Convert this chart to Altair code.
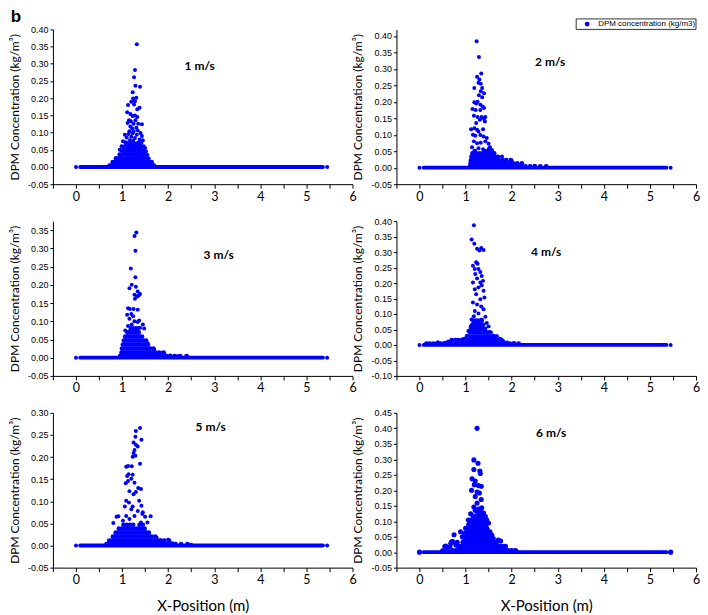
import altair as alt
import pandas as pd

BLUE = "#0000FF"

# ---------------- axes ----------------
X_DOMAIN = [-0.5, 6]
X_TICKS = [-0.5, 0, 0.5, 1, 1.5, 2, 2.5, 3, 3.5, 4, 4.5, 5, 5.5, 6]

SPEEDS = ["1 m/s", "2 m/s", "3 m/s", "4 m/s", "5 m/s", "6  m/s"]
Y_DOMAINS = [[-0.05, 0.40], [-0.05, 0.42], [-0.05, 0.375],
             [-0.10, 0.40], [-0.05, 0.30], [-0.05, 0.45]]
Y_TICKS = [
    [-0.05, 0.0, 0.05, 0.10, 0.15, 0.20, 0.25, 0.30, 0.35, 0.40],
    [-0.05, 0.0, 0.05, 0.10, 0.15, 0.20, 0.25, 0.30, 0.35, 0.40],
    [-0.05, 0.0, 0.05, 0.10, 0.15, 0.20, 0.25, 0.30, 0.35],
    [-0.10, -0.05, 0.0, 0.05, 0.10, 0.15, 0.20, 0.25, 0.30, 0.35, 0.40],
    [-0.05, 0.0, 0.05, 0.10, 0.15, 0.20, 0.25, 0.30],
    [-0.05, 0.0, 0.05, 0.10, 0.15, 0.20, 0.25, 0.30, 0.35, 0.40, 0.45],
]

# zero-concentration band along the tunnel (dense points at y = 0)
BASE_START, BASE_END = 0.09, 5.36
END_POINTS_X = [0.0, 5.45]

# ---------------- data: scattered peak points (x, y) ----------------
P1_PEAK = [(1.32, 0.357), (1.28, 0.282), (1.26, 0.261), (1.29, 0.236), (1.39, 0.233), (1.23, 0.217),
           (1.24, 0.199), (1.31, 0.201), (1.28, 0.191), (1.20, 0.190), (1.13, 0.180), (1.26, 0.182),
           (1.38, 0.172), (1.33, 0.168), (1.11, 0.159), (1.18, 0.154), (1.23, 0.148), (1.28, 0.150),
           (1.33, 0.145), (1.15, 0.136), (1.19, 0.133), (1.29, 0.136), (1.12, 0.128), (1.25, 0.126),
           (1.35, 0.126), (1.43, 0.124), (1.18, 0.118), (1.22, 0.112), (1.31, 0.114), (1.16, 0.104),
           (1.25, 0.104), (1.34, 0.106), (1.40, 0.099), (1.14, 0.096), (1.06, 0.094), (1.23, 0.098),
           (1.32, 0.094), (1.43, 0.090), (1.10, 0.086), (1.20, 0.088), (1.28, 0.084), (1.38, 0.080),
           (1.45, 0.078), (1.02, 0.075), (1.08, 0.072), (1.17, 0.078), (1.24, 0.076), (1.36, 0.072),
           (1.42, 0.070), (1.47, 0.060), (1.50, 0.055), (1.52, 0.045), (0.99, 0.060), (0.95, 0.050),
           (1.55, 0.035), (1.58, 0.025)]
P1_CLOUD = {
    0.004: [0.73, 0.79, 0.85, 0.91, 0.97, 1.03, 1.09, 1.15, 1.21, 1.27, 1.33, 1.39, 1.45, 1.51, 1.57, 1.63, 1.69],
    0.014: [0.80, 0.86, 0.92, 0.98, 1.04, 1.10, 1.16, 1.22, 1.28, 1.34, 1.40, 1.46, 1.52, 1.58, 1.64],
    0.025: [0.87, 0.93, 0.99, 1.05, 1.11, 1.17, 1.23, 1.29, 1.35, 1.41, 1.47, 1.53],
    0.036: [0.95, 1.01, 1.07, 1.13, 1.19, 1.25, 1.31, 1.37, 1.43, 1.48],
    0.047: [1.00, 1.06, 1.12, 1.18, 1.24, 1.30, 1.36, 1.42, 1.46],
    0.058: [1.04, 1.10, 1.16, 1.22, 1.28, 1.34, 1.40],
    0.068: [1.09, 1.15, 1.21, 1.27, 1.33, 1.39],
}

P2_PEAK = [(1.24, 0.384), (1.29, 0.336), (1.34, 0.286), (1.25, 0.276), (1.30, 0.268), (1.28, 0.258),
           (1.33, 0.255), (1.19, 0.242), (1.36, 0.242), (1.33, 0.232), (1.40, 0.226), (1.29, 0.220),
           (1.36, 0.214), (1.19, 0.199), (1.23, 0.195), (1.26, 0.200), (1.32, 0.191), (1.37, 0.186),
           (1.15, 0.178), (1.40, 0.181), (1.22, 0.175), (1.32, 0.175), (1.18, 0.158), (1.26, 0.154),
           (1.35, 0.154), (1.40, 0.148), (1.43, 0.154), (1.31, 0.146), (1.42, 0.140), (1.23, 0.136),
           (1.12, 0.117), (1.19, 0.120), (1.25, 0.115), (1.38, 0.117), (1.28, 0.110), (1.16, 0.100),
           (1.21, 0.097), (1.32, 0.099), (1.39, 0.095), (1.46, 0.090), (1.18, 0.080), (1.25, 0.074),
           (1.33, 0.076), (1.43, 0.080), (1.50, 0.073), (1.53, 0.062), (1.14, 0.062), (1.28, 0.059),
           (1.38, 0.056), (1.57, 0.054), (1.51, 0.059), (1.58, 0.050), (2.00, 0.021), (2.22, 0.010),
           (2.50, 0.006), (1.79, 0.034)]
P2_CLOUD = {
    0.004: [1.10, 1.16, 1.22, 1.28, 1.34, 1.40, 1.46, 1.52, 1.58, 1.64, 1.70, 1.76, 1.82, 1.88, 1.94, 2.00,
            2.06, 2.12, 2.20, 2.30, 2.40, 2.50, 2.62, 2.75],
    0.013: [1.11, 1.17, 1.23, 1.29, 1.35, 1.41, 1.47, 1.53, 1.59, 1.65, 1.71, 1.77, 1.83, 1.89, 1.95, 2.03,
            2.12, 2.22],
    0.023: [1.12, 1.18, 1.24, 1.30, 1.36, 1.42, 1.48, 1.54, 1.60, 1.66, 1.72, 1.80, 1.88, 1.98],
    0.033: [1.13, 1.19, 1.27, 1.33, 1.39, 1.45, 1.51, 1.57, 1.63, 1.70],
    0.043: [1.15, 1.22, 1.30, 1.37, 1.44, 1.50, 1.56, 1.62],
    0.050: [1.20, 1.42, 1.48, 1.55],
}

P3_PEAK = [(1.31, 0.344), (1.27, 0.334), (1.29, 0.294), (1.19, 0.245), (1.29, 0.221), (1.21, 0.200),
           (1.16, 0.191), (1.30, 0.195), (1.34, 0.182), (1.39, 0.175), (1.27, 0.173), (1.33, 0.168),
           (1.36, 0.171), (1.28, 0.162), (1.13, 0.136), (1.17, 0.134), (1.25, 0.134), (1.34, 0.132),
           (1.11, 0.118), (1.20, 0.120), (1.24, 0.114), (1.16, 0.107), (1.27, 0.100), (1.34, 0.098),
           (1.21, 0.091), (1.13, 0.087), (1.37, 0.102), (1.39, 0.082), (1.30, 0.075), (1.18, 0.077),
           (1.45, 0.091), (1.07, 0.075), (1.48, 0.080), (1.55, 0.040), (1.62, 0.025), (1.70, 0.022),
           (1.85, 0.013), (1.92, 0.010), (2.05, 0.006), (2.20, 0.004)]
P3_CLOUD = {
    0.004: [0.96, 1.02, 1.08, 1.14, 1.20, 1.26, 1.32, 1.38, 1.44, 1.50, 1.56, 1.62, 1.68, 1.74, 1.80, 1.88,
            1.96, 2.04, 2.14, 2.26, 2.40],
    0.014: [0.99, 1.05, 1.11, 1.17, 1.23, 1.29, 1.35, 1.41, 1.47, 1.53, 1.59, 1.65, 1.72, 1.80, 1.90],
    0.025: [1.00, 1.06, 1.12, 1.18, 1.24, 1.30, 1.36, 1.42, 1.48, 1.54, 1.60, 1.68],
    0.036: [1.02, 1.08, 1.14, 1.20, 1.26, 1.32, 1.38, 1.44, 1.50, 1.56],
    0.047: [1.04, 1.10, 1.16, 1.22, 1.28, 1.34, 1.40, 1.46, 1.52],
    0.058: [1.07, 1.13, 1.19, 1.25, 1.31, 1.37, 1.43],
    0.069: [1.12, 1.18, 1.24, 1.30, 1.36],
    0.080: [1.20, 1.27, 1.33],
}

P4_PEAK = [(1.18, 0.387), (1.13, 0.341), (1.19, 0.327), (1.25, 0.311), (1.30, 0.305), (1.34, 0.313),
           (1.39, 0.307), (1.23, 0.267), (1.26, 0.262), (1.16, 0.256), (1.20, 0.245), (1.28, 0.245),
           (1.32, 0.236), (1.21, 0.229), (1.35, 0.223), (1.25, 0.215), (1.38, 0.207), (1.16, 0.202),
           (1.32, 0.202), (1.35, 0.193), (1.28, 0.186), (1.20, 0.180), (1.39, 0.175), (1.23, 0.164),
           (1.41, 0.153), (1.32, 0.148), (1.16, 0.137), (1.25, 0.131), (1.34, 0.124), (1.39, 0.115),
           (1.20, 0.110), (1.28, 0.102), (1.18, 0.093), (1.43, 0.091), (1.35, 0.082), (1.13, 0.082),
           (1.46, 0.071), (1.25, 0.077), (1.50, 0.060), (1.11, 0.060), (1.32, 0.063),
           (0.40, 0.009), (0.55, 0.007), (0.62, 0.011), (0.78, 0.017), (0.85, 0.016), (0.95, 0.019),
           (1.00, 0.022), (1.03, 0.030), (1.06, 0.045), (1.55, 0.040), (1.60, 0.030), (1.68, 0.028),
           (1.75, 0.020), (1.82, 0.012), (1.90, 0.008), (2.05, 0.006)]
P4_CLOUD = {
    0.004: [0.15, 0.22, 0.30, 0.38, 0.46, 0.54, 0.62, 0.70, 0.78, 0.86, 0.94, 1.00, 1.06, 1.12, 1.18, 1.24,
            1.30, 1.36, 1.42, 1.48, 1.54, 1.60, 1.66, 1.72, 1.80, 1.88, 1.96, 2.05, 2.15],
    0.015: [0.70, 0.82, 0.92, 1.02, 1.08, 1.14, 1.20, 1.26, 1.32, 1.38, 1.44, 1.50, 1.56, 1.62, 1.70, 1.78],
    0.027: [1.09, 1.15, 1.21, 1.27, 1.33, 1.39, 1.45, 1.51, 1.58, 1.65],
    0.040: [1.10, 1.16, 1.22, 1.28, 1.34, 1.40, 1.46, 1.52],
    0.052: [1.12, 1.18, 1.24, 1.30, 1.36, 1.42],
    0.065: [1.15, 1.21, 1.27, 1.33, 1.38],
    0.078: [1.17, 1.23, 1.29, 1.35],
}

P5_PEAK = [(1.39, 0.266), (1.30, 0.259), (1.29, 0.246), (1.42, 0.239), (1.25, 0.233), (1.30, 0.228),
           (1.27, 0.216), (1.34, 0.224), (1.25, 0.209), (1.29, 0.203), (1.23, 0.201), (1.39, 0.185),
           (1.09, 0.178), (1.21, 0.179), (1.13, 0.180), (1.11, 0.157), (1.23, 0.160), (1.14, 0.161),
           (1.13, 0.146), (1.27, 0.142), (1.20, 0.151), (1.08, 0.141), (1.35, 0.130), (1.16, 0.123),
           (1.30, 0.121), (1.41, 0.128), (1.25, 0.116), (1.09, 0.101), (1.15, 0.097), (1.37, 0.101),
           (1.23, 0.088), (1.42, 0.090), (1.06, 0.088), (1.20, 0.082), (1.34, 0.078), (0.92, 0.066),
           (0.81, 0.051), (0.88, 0.065), (1.09, 0.067), (1.27, 0.067), (1.44, 0.071), (1.45, 0.075),
           (1.62, 0.066), (1.02, 0.056), (1.16, 0.060), (1.41, 0.052), (1.50, 0.065), (1.55, 0.052),
           (2.00, 0.013), (1.90, 0.010), (2.10, 0.005), (2.50, 0.002), (1.75, 0.018), (1.85, 0.012)]
P5_CLOUD = {
    0.003: [0.66, 0.72, 0.78, 0.84, 0.90, 0.96, 1.02, 1.08, 1.14, 1.20, 1.26, 1.32, 1.38, 1.44, 1.50, 1.56,
            1.62, 1.68, 1.74, 1.80, 1.86, 1.92, 1.98, 2.06, 2.16, 2.28, 2.42],
    0.011: [0.72, 0.78, 0.84, 0.90, 0.96, 1.02, 1.08, 1.14, 1.20, 1.26, 1.32, 1.38, 1.44, 1.50, 1.56, 1.62,
            1.68, 1.74, 1.82, 1.92, 2.02],
    0.020: [0.80, 0.86, 0.92, 0.98, 1.04, 1.10, 1.16, 1.22, 1.28, 1.34, 1.40, 1.46, 1.52, 1.58, 1.64, 1.72],
    0.029: [0.86, 0.92, 0.98, 1.04, 1.10, 1.16, 1.22, 1.28, 1.34, 1.40, 1.46, 1.52, 1.58],
    0.038: [0.93, 1.00, 1.06, 1.12, 1.18, 1.24, 1.31, 1.37, 1.43, 1.49],
    0.047: [1.03, 1.10, 1.17, 1.24, 1.38, 1.45],
}

P6_PEAK = [(1.25, 0.400), (1.18, 0.298), (1.27, 0.287), (1.18, 0.267), (1.31, 0.262), (1.32, 0.254),
           (1.14, 0.237), (1.21, 0.230), (1.19, 0.218), (1.28, 0.215), (1.34, 0.213), (1.13, 0.200),
           (1.25, 0.194), (1.30, 0.191), (1.21, 0.180), (1.34, 0.170), (1.25, 0.159), (1.18, 0.146),
           (1.28, 0.139), (1.21, 0.135), (1.35, 0.143), (1.39, 0.126), (1.11, 0.124), (1.43, 0.115),
           (1.06, 0.104), (1.46, 0.104), (1.07, 0.088), (1.50, 0.094), (1.00, 0.077), (1.46, 0.077),
           (1.53, 0.066), (0.98, 0.061), (1.57, 0.055), (0.93, 0.050), (1.60, 0.044), (0.89, 0.066),
           (0.75, 0.056), (1.71, 0.039), (0.72, 0.034), (1.76, 0.036), (0.79, 0.023), (0.57, 0.020),
           (0.68, 0.029), (0.55, 0.018), (0.70, 0.034), (0.66, 0.017), (0.82, 0.032), (0.60, 0.008),
           (0.50, 0.004)]
P6_CLOUD = {
    0.004: [0.72, 0.80, 0.87, 0.94, 1.01, 1.08, 1.15, 1.22, 1.29, 1.36, 1.43, 1.50, 1.57, 1.64, 1.71, 1.78,
            1.85, 1.92, 2.00, 2.08],
    0.018: [0.86, 0.93, 1.00, 1.07, 1.14, 1.21, 1.28, 1.35, 1.42, 1.49, 1.56, 1.63, 1.70, 1.78, 1.86],
    0.032: [0.95, 1.02, 1.09, 1.16, 1.23, 1.30, 1.37, 1.44, 1.51, 1.58, 1.66],
    0.046: [0.99, 1.06, 1.13, 1.20, 1.27, 1.34, 1.41, 1.48, 1.55],
    0.060: [1.02, 1.09, 1.16, 1.23, 1.30, 1.37, 1.44, 1.50],
    0.074: [1.05, 1.12, 1.19, 1.26, 1.33, 1.40, 1.46],
    0.088: [1.08, 1.15, 1.22, 1.29, 1.36, 1.43],
    0.102: [1.12, 1.19, 1.26, 1.33, 1.40],
    0.116: [1.17, 1.24, 1.31, 1.37],
    0.128: [1.27, 1.34],
}

PEAKS = [P1_PEAK, P2_PEAK, P3_PEAK, P4_PEAK, P5_PEAK, P6_PEAK]
CLOUDS = [P1_CLOUD, P2_CLOUD, P3_CLOUD, P4_CLOUD, P5_CLOUD, P6_CLOUD]

# ---------------- styles ----------------
DOT_SIZES = [16, 16, 16, 16, 16, 26]
CLOUD_DOT_SIZES = [24, 24, 24, 24, 22, 32]
LABEL_POS = [(147, 37), (154, 33), (166, 34), (150, 31), (158, 14), (155, 20)]
PANEL_W, PANEL_H = 300, 155
Y_TITLE = "DPM Concentration (kg/m³)"
LEGEND_TEXT = "DPM concentration (kg/m3)"


def y_label_expr():
    return "(datum.value < 0 ? '-' : '') + format(abs(datum.value), '.2f')"


def panel(i):
    peak_rows = [{"x": x, "y": y} for (x, y) in PEAKS[i]]
    peak_rows += [{"x": x, "y": 0.0} for x in END_POINTS_X]
    cloud_rows = []
    for y, xs in CLOUDS[i].items():
        for x in xs:
            cloud_rows.append({"x": x, "y": y})
    peak_df = pd.DataFrame(peak_rows)
    cloud_df = pd.DataFrame(cloud_rows)

    bottom = i >= 4
    x_enc = alt.X(
        "x:Q",
        title="X-Position (m)" if bottom else "",
        scale=alt.Scale(domain=X_DOMAIN, nice=False, zero=False),
        axis=alt.Axis(
            values=X_TICKS,
            labelExpr="datum.value % 1 == 0 ? format(datum.value, 'd') : ''",
            labelFont="Lato", labelFontSize=12.5, labelColor="black",
            labelPadding=2, labelFlush=False, labelOverlap=False,
            tickSize=4, tickColor="black", domainColor="black",
            grid=False,
            titleFont="Lato", titleFontSize=15, titleFontWeight="normal",
            titleColor="black", titlePadding=12,
        ),
    )
    y_enc = alt.Y(
        "y:Q",
        title=Y_TITLE,
        scale=alt.Scale(domain=Y_DOMAINS[i], nice=False, zero=False),
        axis=alt.Axis(
            values=Y_TICKS[i],
            labelExpr=y_label_expr(),
            labelFont="Liberation Sans", labelFontSize=9, labelColor="black",
            labelPadding=2, labelFlush=False, labelOverlap=False,
            tickSize=3, tickColor="black", domainColor="black",
            grid=False,
            titleFont="Lato", titleFontSize=12, titleFontWeight="normal",
            titleColor="black", titlePadding=6,
        ),
    )

    base_df = pd.DataFrame({"x": [BASE_START], "x2": [BASE_END], "y": [0.0]})
    baseline = alt.Chart(base_df).mark_rule(
        color=BLUE, strokeWidth=3.8, strokeCap="round"
    ).encode(x=x_enc, x2="x2:Q", y=y_enc)

    cloud = alt.Chart(cloud_df).mark_circle(
        color=BLUE, opacity=1, size=CLOUD_DOT_SIZES[i]
    ).encode(x=x_enc, y=y_enc)

    pts = alt.Chart(peak_df).mark_circle(
        color=BLUE, opacity=1, size=DOT_SIZES[i]
    ).encode(x=x_enc, y=y_enc)

    lx, ly = LABEL_POS[i]
    label = alt.Chart(pd.DataFrame({"t": [SPEEDS[i]]})).mark_text(
        font="Lato", fontWeight="bold", fontSize=12, color="black",
        align="center", baseline="middle"
    ).encode(x=alt.value(lx), y=alt.value(ly), text="t:N")

    layers = [baseline, cloud, pts, label]

    if i == 0:
        letter = alt.Chart(pd.DataFrame({"t": ["b"]})).mark_text(
            font="Liberation Sans", fontWeight="bold", fontSize=17, color="black",
            align="center", baseline="alphabetic"
        ).encode(x=alt.value(-37), y=alt.value(-7), text="t:N")
        layers.append(letter)

    if i == 1:
        one = pd.DataFrame({"t": [LEGEND_TEXT]})
        box = alt.Chart(one).mark_rect(
            fill="white", stroke="black", strokeWidth=0.8
        ).encode(x=alt.value(180), x2=alt.value(300), y=alt.value(-10.5), y2=alt.value(0))
        sym = alt.Chart(one).mark_circle(color=BLUE, opacity=1, size=24).encode(
            x=alt.value(191), y=alt.value(-5.3))
        txt = alt.Chart(one).mark_text(
            font="Liberation Sans", fontSize=8, color="black",
            align="left", baseline="middle"
        ).encode(x=alt.value(202), y=alt.value(-5), text="t:N")
        layers += [box, sym, txt]

    return alt.layer(*layers).properties(width=PANEL_W, height=PANEL_H)


panels = [panel(i) for i in range(6)]

chart = alt.concat(
    *panels,
    columns=2,
    spacing={"row": 37, "column": 44},
    bounds="flush",
).properties(
    padding=0, background="white"
).configure_view(stroke=None)

chart.save("out.html", embed_options={"renderer": "svg", "actions": False})
